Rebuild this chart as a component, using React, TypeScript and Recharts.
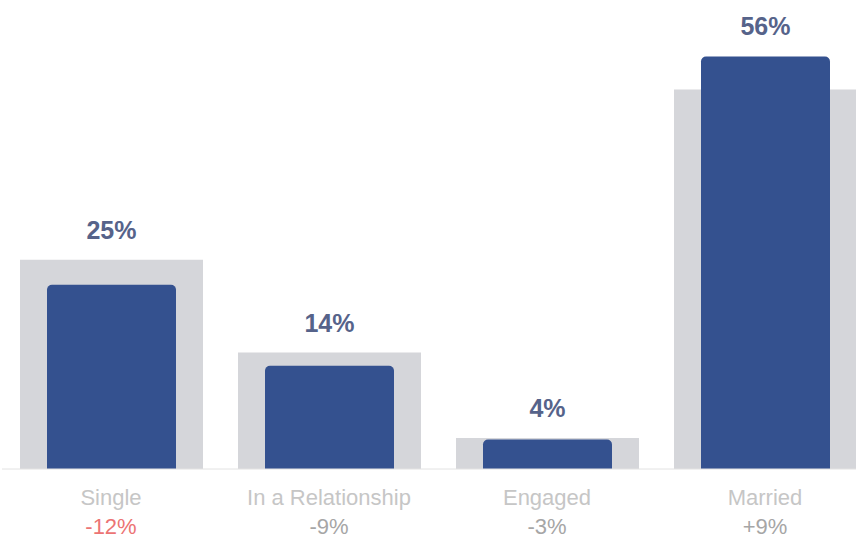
import React from 'react';
import { BarChart, Bar, XAxis, YAxis, LabelList } from 'recharts';

const categories = ['Single', 'In a Relationship', 'Engaged', 'Married'];
const current = [25, 14, 4, 56];
const benchmark = [28.4, 15.8, 4.2, 51.5];
const changes = ['-12%', '-9%', '-3%', '+9%'];

const data = categories.map((name, i) => ({
  name,
  value: current[i],
  bench: benchmark[i],
  change: changes[i],
}));

const FONT = '"Liberation Sans", Arial, sans-serif';

const CategoryTick = (props: any) => {
  const { x, y, payload, index } = props;
  const change = changes[index] ?? '';
  const negative = change.startsWith('-') && index === 0;
  return (
    <g>
      <text x={x} y={y + 36} textAnchor="middle" fontFamily={FONT} fontSize={22} fill="#c6c6c6">
        {payload.value}
      </text>
      <text
        x={x}
        y={y + 65}
        textAnchor="middle"
        fontFamily={FONT}
        fontSize={22}
        fill={negative ? '#ec7474' : '#a6a6a6'}
      >
        {change}
      </text>
    </g>
  );
};

// value label sits above whichever bar is taller
const makeLabel = (which: 'value' | 'bench') => (props: any) => {
  const { x, y, width, index } = props;
  const d = data[index];
  if (!d) return null;
  const taller = d.value > d.bench ? 'value' : 'bench';
  if (taller !== which) return null;
  return (
    <text
      x={x + width / 2}
      y={y - 21}
      textAnchor="middle"
      fontFamily={FONT}
      fontSize={25}
      fontWeight="bold"
      fill="#56638a"
    >
      {d.value}%
    </text>
  );
};

export default function App() {
  return (
    <div style={{ position: 'absolute', left: 0, top: 0, width: 856, height: 541, overflow: 'hidden', background: '#fff' }}>
      <BarChart
        width={880}
        height={541}
        data={data}
        margin={{ top: 27, right: 6, bottom: 0, left: 2 }}
      >
        <XAxis dataKey="name" xAxisId="bg" hide height={0} />
        <XAxis
          dataKey="name"
          xAxisId="main"
          tickLine={false}
          tickSize={0}
          tickMargin={0}
          axisLine={{ stroke: '#e2e2e2' }}
          height={72}
          interval={0}
          tick={<CategoryTick />}
        />
        <YAxis domain={[0, 60]} hide />
        <Bar dataKey="bench" xAxisId="bg" fill="#d5d6da" barSize={183} isAnimationActive={false}>
          <LabelList dataKey="bench" content={makeLabel('bench')} />
        </Bar>
        <Bar dataKey="value" xAxisId="main" fill="#34518f" barSize={129} radius={[5, 5, 0, 0]} isAnimationActive={false}>
          <LabelList dataKey="value" content={makeLabel('value')} />
        </Bar>
      </BarChart>
    </div>
  );
}
